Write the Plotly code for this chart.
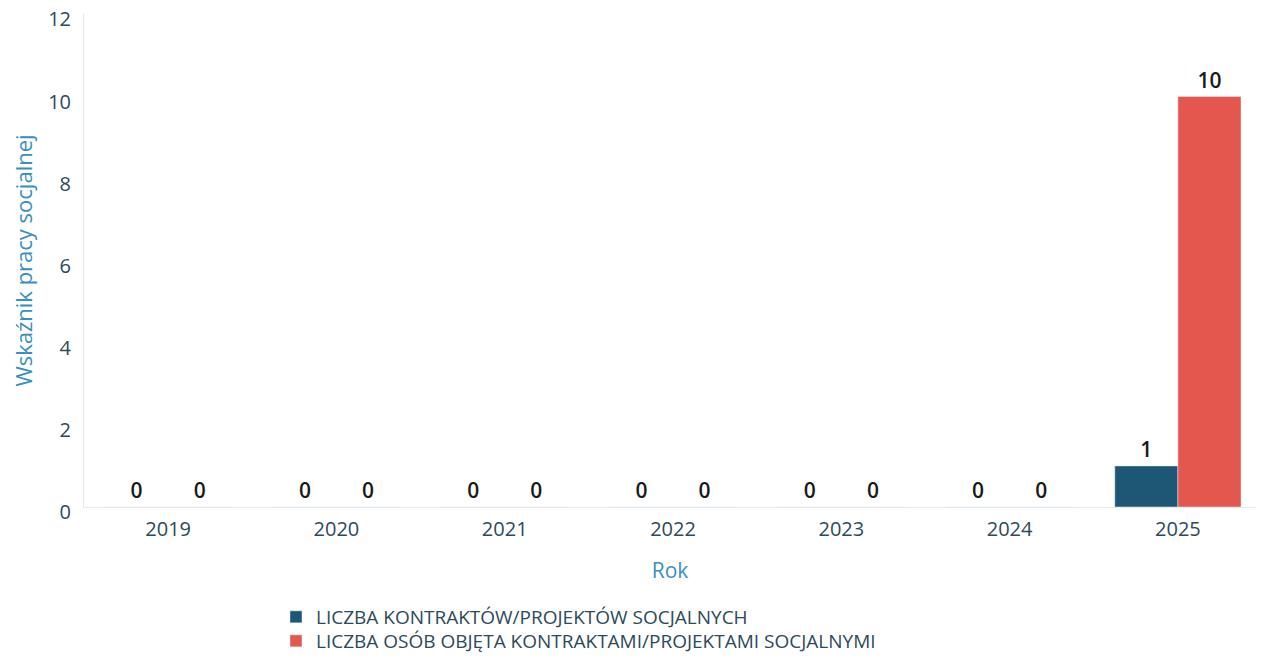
import plotly.graph_objects as go

years = ["2019", "2020", "2021", "2022", "2023", "2024", "2025"]
kontrakty = [0, 0, 0, 0, 0, 0, 1]
osoby = [0, 0, 0, 0, 0, 0, 10]
name1 = "LICZBA KONTRAKTÓW/PROJEKTÓW SOCJALNYCH"
name2 = "LICZBA OSÓB OBJĘTA KONTRAKTAMI/PROJEKTAMI SOCJALNYMI"
yticks = [0, 2, 4, 6, 8, 10, 12]

font = "Open Sans"
label_font = dict(size=21, color="#1a1a1a", family=font, weight=600)
fig = go.Figure()
fig.add_bar(x=years, y=kontrakty, name=name1, marker_color="#1e5676",
            text=[str(v) for v in kontrakty], textposition="outside",
            textfont=label_font, cliponaxis=False, legend="legend")
fig.add_bar(x=years, y=osoby, name=name2, marker_color="#e3574f",
            text=[str(v) for v in osoby], textposition="outside",
            textfont=label_font, cliponaxis=False, legend="legend2")

legend_common = dict(orientation="v", x=0.1638, xanchor="left", yanchor="middle",
                     font=dict(size=19, color="#2d4a5a", family=font),
                     itemwidth=30, bgcolor="rgba(0,0,0,0)")

fig.update_layout(
    width=1248, height=645,
    margin=dict(l=76, r=0, t=6, b=146, autoexpand=False),
    paper_bgcolor="white", plot_bgcolor="white",
    barmode="group", bargap=0.25, bargroupgap=0,
    font=dict(family=font, color="#2d4a5a", size=20),
    xaxis=dict(title=dict(text="Rok", font=dict(color="#3a8fc0", size=21), standoff=22),
               automargin=False, ticklabelstandoff=4, range=[-0.5, 6.464],
               showline=True, linecolor="#e4eaee", linewidth=1, showgrid=False,
               tickfont=dict(size=20, color="#2d4a5a"), ticks=""),
    yaxis=dict(title=dict(text="Wskaźnik pracy socjalnej", font=dict(color="#3a8fc0", size=22), standoff=42),
               automargin=False, ticklabelstandoff=8, ticklabeloverflow="allow", ticklabelshift=5,
               range=[0, 12.01], tickvals=yticks, ticktext=[str(t) for t in yticks],
               showgrid=False, zeroline=False,
               showline=True, linecolor="#dde8f0", linewidth=1,
               tickfont=dict(size=20, color="#2d4a5a"), ticks=""),
    legend=dict(y=-0.2231, **legend_common),
    legend2=dict(y=-0.2718, **legend_common),
    showlegend=True,
)
fig.write_html("out.html")
